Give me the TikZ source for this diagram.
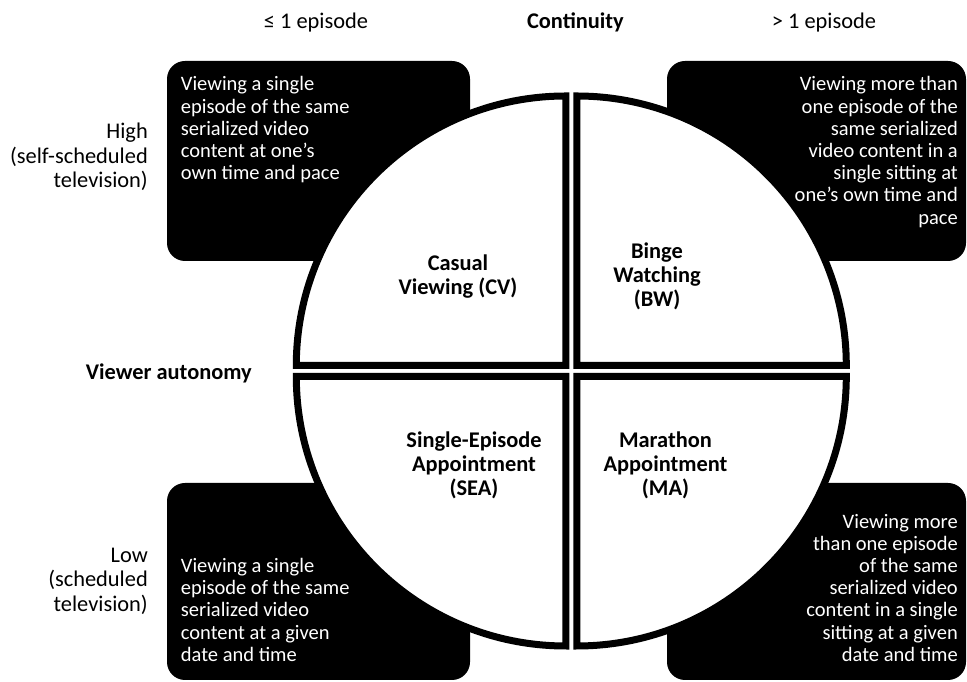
\documentclass[tikz,border=0pt]{standalone}
\usepackage{fontspec}
\setmainfont{Carlito}
\begin{document}
\begin{tikzpicture}[x=1pt,y=1pt,
  blackbox/.style={fill=black, rounded corners=18pt},
  quad/.style={draw=black, fill=white, line width=7pt, line join=miter},
  boxtext/.style={text=white, font=\fontsize{20.5}{22.2}\selectfont, inner sep=0pt},
  title/.style={font=\bfseries\fontsize{22.4}{24}\selectfont, align=center, inner sep=0pt},
  side/.style={font=\fontsize{22.4}{24.5}\selectfont, align=right, inner sep=0pt},
  axislabel/.style={font=\fontsize{22.4}{24}\selectfont, inner sep=0pt, anchor=base}]
\useasboundingbox (0,0) rectangle (967,682);
% black description boxes
\fill[blackbox] (167,421) rectangle (470,621);
\fill[blackbox] (667,421) rectangle (966,621);
\fill[blackbox] (167,2) rectangle (470,199);
\fill[blackbox] (667,2) rectangle (966,199);
% quadrants
\filldraw[quad] (565.8,316.5) -- ++(-269.5,0) arc[start angle=180,end angle=90,radius=269.5] -- cycle;
\filldraw[quad] (576.8,316.5) -- ++(0,269.5) arc[start angle=90,end angle=0,radius=269.5] -- cycle;
\filldraw[quad] (565.8,305.5) -- ++(-269.5,0) arc[start angle=180,end angle=270,radius=269.5] -- cycle;
\filldraw[quad] (576.8,305.5) -- ++(269.5,0) arc[start angle=0,end angle=-90,radius=269.5] -- cycle;
% box texts
\node[boxtext, anchor=north west, align=left] (tltext) at (180.7,605.6) {Viewing a single\\episode of the same\\serialized video\\content at one’s\\own time and pace};
\node[boxtext, anchor=north east, align=right] (trtext) at (958,605.6) {Viewing more than\\one episode of the\\same serialized\\video content in a\\single sitting at\\one’s own time and\\pace};
\node[boxtext, anchor=south west, align=left] (bltext) at (180.7,20.3) {Viewing a single\\episode of the same\\serialized video\\content at a given\\date and time};
\node[boxtext, anchor=south east, align=right] (brtext) at (958,20.3) {Viewing more\\than one episode\\of the same\\serialized video\\content in a single\\sitting at a given\\date and time};
% quadrant titles
\node[title] (cv) at (458,405) {Casual\\Viewing (CV)};
\node[title] (bw) at (657,406) {Binge\\Watching\\(BW)};
\node[title] (sea) at (474,217) {Single-Episode\\Appointment\\(SEA)};
\node[title] (ma) at (665.5,217) {Marathon\\Appointment\\(MA)};
% axis labels
\node[axislabel] (le) at (316,653) {≤ 1 episode};
\node[axislabel, font=\bfseries\fontsize{22.4}{24}\selectfont] (cont) at (575.4,653) {Continuity};
\node[axislabel] (gt) at (824,653) {> 1 episode};
\node[side, anchor=north east] (high) at (148,559.2) {High\\(self-scheduled\\television)};
\node[side, anchor=north east] (low) at (148,134.4) {Low\\(scheduled\\television)};
\node[title, anchor=east] (va) at (252,309) {Viewer autonomy};
\end{tikzpicture}
\end{document}
